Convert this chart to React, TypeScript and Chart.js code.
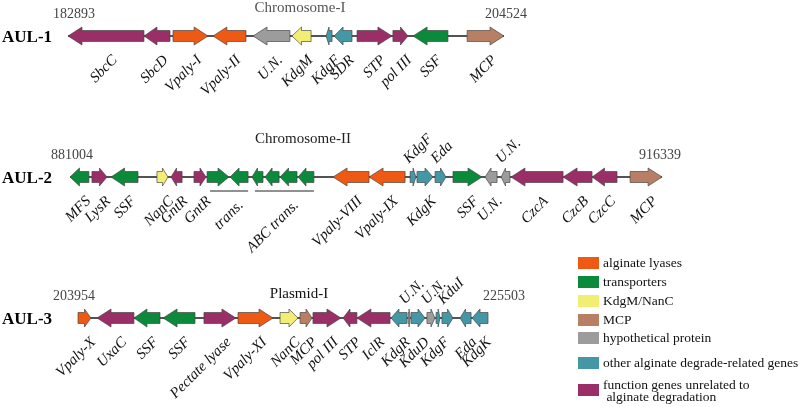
import React, { useEffect, useRef } from 'react';
import { Chart, registerables } from 'chart.js';

Chart.register(...registerables);

// ---------------- data ----------------
const ROWS = ['AUL-1', 'AUL-2', 'AUL-3'];
const ROW_TITLES = ['Chromosome-I', 'Chromosome-II', 'Plasmid-I'];
const ROW_START_BP = [182893, 881004, 203954];
const ROW_END_BP = [204524, 916339, 225503];

// gene positions in kb from the locus start
const AUL1_NAMES = ['SbcC', 'SbcD', 'Vpaly-I', 'Vpaly-II', 'U.N.', 'KdgM', 'KdgF', 'SDR', 'STP', 'pol III', 'SSF', 'MCP'];
const AUL1_START = [0.0, 3.77, 5.21, 7.19, 9.18, 11.11, 12.8, 13.2, 14.34, 16.12, 17.12, 19.8];
const AUL1_END = [3.77, 5.06, 6.95, 8.83, 11.01, 12.06, 13.1, 14.09, 16.07, 16.87, 18.85, 21.63];
const AUL1_STRAND = [-1, -1, 1, -1, -1, -1, -1, -1, 1, 1, -1, 1];
const AUL1_TYPE = ['other', 'other', 'lyase', 'lyase', 'hyp', 'kdgm', 'deg', 'deg', 'other', 'other', 'trans', 'mcp'];
const AUL1_SIDE = ['b', 'b', 'b', 'b', 'b', 'b', 'b', 'b', 'b', 'b', 'b', 'b'];

const AUL2_NAMES = ['MFS', 'LysR', 'SSF', 'NanC', 'GntR', 'GntR', '', '', '', '', '', '', 'Vpaly-VIII', 'Vpaly-IX', 'KdgF', 'KdgK', 'Eda', 'SSF', 'U.N.', 'U.N.', 'CzcA', 'CzcB', 'CzcC', 'MCP'];
const AUL2_START = [0.0, 1.31, 2.45, 5.19, 6.03, 7.4, 8.18, 9.55, 10.86, 11.64, 12.54, 13.61, 15.7, 17.85, 20.3, 20.71, 21.79, 22.86, 24.77, 25.73, 26.32, 29.43, 31.16, 33.43];
const AUL2_END = [1.13, 2.21, 4.06, 5.85, 6.69, 8.12, 9.49, 10.63, 11.52, 12.48, 13.55, 14.56, 17.85, 20.0, 20.65, 21.67, 22.44, 24.59, 25.49, 26.26, 29.43, 31.16, 32.65, 35.34];
const AUL2_STRAND = [-1, 1, -1, 1, -1, 1, 1, -1, -1, -1, -1, -1, -1, -1, 1, 1, 1, 1, -1, -1, -1, -1, -1, 1];
const AUL2_TYPE = ['trans', 'other', 'trans', 'kdgm', 'other', 'other', 'trans', 'trans', 'trans', 'trans', 'trans', 'trans', 'lyase', 'lyase', 'deg', 'deg', 'deg', 'trans', 'hyp', 'hyp', 'other', 'other', 'other', 'mcp'];
const AUL2_SIDE = ['b', 'b', 'b', 'b', 'b', 'b', '', '', '', '', '', '', 'b', 'b', 'a', 'b', 'a', 'b', 'b', 'a', 'b', 'b', 'b', 'b'];
const AUL2_GROUP_LABELS = ['trans.', 'ABC trans.'];
const AUL2_GROUP_FIRST = [6, 8];
const AUL2_GROUP_LAST = [7, 11];

const AUL3_NAMES = ['Vpaly-X', 'UxaC', 'SSF', 'SSF', 'Pectate lyase', 'Vpaly-XI', 'NanC', 'MCP', 'pol III', 'STP', 'IclR', 'KdgR', 'U.N.', 'KduD', 'U.N.', 'KdgF', 'KduI', 'Eda', 'KdgK'];
const AUL3_START = [0.0, 1.0, 2.94, 4.47, 6.62, 8.41, 10.62, 11.67, 12.35, 13.93, 14.66, 16.45, 17.35, 17.5, 18.34, 18.82, 19.13, 20.08, 20.71];
const AUL3_END = [0.68, 2.94, 4.31, 6.15, 8.3, 10.25, 11.56, 12.3, 13.82, 14.66, 16.4, 17.29, 17.45, 18.24, 18.76, 19.03, 19.71, 20.66, 21.55];
const AUL3_STRAND = [1, -1, -1, -1, 1, 1, 1, 1, 1, -1, -1, -1, 1, 1, 1, 1, 1, -1, -1];
const AUL3_TYPE = ['lyase', 'other', 'trans', 'trans', 'other', 'lyase', 'kdgm', 'mcp', 'other', 'other', 'other', 'deg', 'hyp', 'deg', 'hyp', 'deg', 'deg', 'deg', 'deg'];
const AUL3_SIDE = ['b', 'b', 'b', 'b', 'b', 'b', 'b', 'b', 'b', 'b', 'b', 'b', 'a', 'b', 'a', 'b', 'a', 'b', 'b'];

const LEGEND_TYPES = ['lyase', 'trans', 'kdgm', 'mcp', 'hyp', 'deg', 'other'];
const LEGEND_LABELS = [
  ['alginate lyases'],
  ['transporters'],
  ['KdgM/NanC'],
  ['MCP'],
  ['hypothetical protein'],
  ['other alginate degrade-related genes'],
  ['function genes unrelated to', ' alginate degradation'],
];

// ---------------- styles / layout ----------------
const TYPE_COLORS: Record<string, string> = {
  lyase: '#EE5A14',
  trans: '#0B8A3B',
  kdgm: '#F2EE74',
  mcp: '#B97F64',
  hyp: '#9C9C9C',
  deg: '#4497A4',
  other: '#9A2E66',
};
const SERIF = "'Liberation Serif', 'Times New Roman', serif";
const W = 800;
const H = 407;
const ROW_LEFT_PX = [68, 70, 78];
const ROW_RIGHT_PX = [504, 662, 488];
const TITLE_X = [300, 303, 299];
const TITLE_DY = [-28, -38, -24];
const TITLE_COLORS = ['#555', '#222', '#111'];
const START_LABEL_X = [74, 72, 74];
const END_LABEL_X = [506, 660, 504];
const LEGEND_X = 578;
const LEGEND_Y = [263, 282, 301, 320, 338, 363, 390];

const ROW_DATA = [
  { names: AUL1_NAMES, start: AUL1_START, end: AUL1_END, strand: AUL1_STRAND, type: AUL1_TYPE, side: AUL1_SIDE },
  { names: AUL2_NAMES, start: AUL2_START, end: AUL2_END, strand: AUL2_STRAND, type: AUL2_TYPE, side: AUL2_SIDE },
  { names: AUL3_NAMES, start: AUL3_START, end: AUL3_END, strand: AUL3_STRAND, type: AUL3_TYPE, side: AUL3_SIDE },
];

function arrow(ctx: CanvasRenderingContext2D, a: number, b: number, y: number, dir: number) {
  const x0 = Math.min(a, b);
  const x1 = Math.max(a, b);
  const w = x1 - x0;
  const bh = 5.5;
  const hh = 9;
  const head = Math.min(14, w * 0.5);
  ctx.beginPath();
  if (dir > 0) {
    ctx.moveTo(x0, y - bh);
    ctx.lineTo(x1 - head, y - bh);
    ctx.lineTo(x1 - head, y - hh);
    ctx.lineTo(x1, y);
    ctx.lineTo(x1 - head, y + hh);
    ctx.lineTo(x1 - head, y + bh);
    ctx.lineTo(x0, y + bh);
  } else {
    ctx.moveTo(x1, y - bh);
    ctx.lineTo(x0 + head, y - bh);
    ctx.lineTo(x0 + head, y - hh);
    ctx.lineTo(x0, y);
    ctx.lineTo(x0 + head, y + hh);
    ctx.lineTo(x0 + head, y + bh);
    ctx.lineTo(x1, y + bh);
  }
  ctx.closePath();
}

const genePlugin = {
  id: 'geneMap',
  afterDatasetsDraw(chart: any) {
    const ctx: CanvasRenderingContext2D = chart.ctx;
    const yScale = chart.scales.y;
    ctx.save();
    ROWS.forEach((row, r) => {
      const xs = chart.scales['x' + r];
      const rd = ROW_DATA[r];
      const y = yScale.getPixelForValue(r);
      const span = (ROW_END_BP[r] - ROW_START_BP[r]) / 1000;
      // backbone
      ctx.strokeStyle = '#1a1a1a';
      ctx.lineWidth = 1.4;
      ctx.beginPath();
      ctx.moveTo(xs.getPixelForValue(0), y);
      ctx.lineTo(xs.getPixelForValue(span), y);
      ctx.stroke();
      // genes
      const meta = chart.getDatasetMeta(r);
      meta.data.forEach((el: any, i: number) => {
        const p = el.getProps(['x', 'base', 'y'], true);
        arrow(ctx, p.base, p.x, p.y, rd.strand[i]);
        ctx.fillStyle = TYPE_COLORS[rd.type[i]];
        ctx.fill();
        ctx.strokeStyle = 'rgba(70,70,70,0.85)';
        ctx.lineWidth = 0.8;
        ctx.stroke();
      });
      // gene labels
      ctx.fillStyle = '#111';
      ctx.font = `italic 15px ${SERIF}`;
      ctx.textBaseline = 'middle';
      meta.data.forEach((el: any, i: number) => {
        const name = rd.names[i];
        const side = rd.side[i];
        if (!name || !side) return;
        const p = el.getProps(['x', 'base', 'y'], true);
        const cx = (p.x + p.base) / 2;
        ctx.save();
        if (side === 'b') {
          ctx.translate(cx + 9, p.y + 22);
          ctx.rotate(-Math.PI / 4);
          ctx.textAlign = 'right';
        } else {
          ctx.translate(cx - 7, p.y - 16);
          ctx.rotate(-Math.PI / 4);
          ctx.textAlign = 'left';
        }
        ctx.fillText(name, 0, 0);
        ctx.restore();
      });
      // row name
      ctx.fillStyle = '#000';
      ctx.font = `bold 17px ${SERIF}`;
      ctx.textAlign = 'left';
      ctx.fillText(row, 2, y + 2);
      // title & coordinates
      ctx.fillStyle = TITLE_COLORS[r];
      ctx.font = `15px ${SERIF}`;
      ctx.textAlign = 'center';
      ctx.fillText(ROW_TITLES[r], TITLE_X[r], y + TITLE_DY[r]);
      ctx.fillStyle = '#444';
      ctx.font = `14px ${SERIF}`;
      ctx.fillText(String(ROW_START_BP[r]), START_LABEL_X[r], y - 22);
      ctx.fillText(String(ROW_END_BP[r]), END_LABEL_X[r], y - 22);
    });

    // gene group underlines (AUL-2)
    {
      const meta = chart.getDatasetMeta(1);
      const y = yScale.getPixelForValue(1);
      AUL2_GROUP_LABELS.forEach((lab, g) => {
        const a = meta.data[AUL2_GROUP_FIRST[g]].getProps(['x', 'base'], true);
        const b = meta.data[AUL2_GROUP_LAST[g]].getProps(['x', 'base'], true);
        const x0 = Math.min(a.x, a.base) + 3;
        const x1 = Math.max(b.x, b.base);
        ctx.strokeStyle = '#222';
        ctx.lineWidth = 1;
        ctx.beginPath();
        ctx.moveTo(x0, y + 14);
        ctx.lineTo(x1, y + 14);
        ctx.stroke();
        ctx.save();
        ctx.fillStyle = '#111';
        ctx.font = `italic 15px ${SERIF}`;
        ctx.textBaseline = 'middle';
        ctx.textAlign = 'right';
        ctx.translate((x0 + x1) / 2 + 12, y + 26);
        ctx.rotate(-Math.PI / 4);
        ctx.fillText(lab, 0, 0);
        ctx.restore();
      });
    }

    // legend
    LEGEND_TYPES.forEach((t, i) => {
      const yc = LEGEND_Y[i];
      ctx.fillStyle = TYPE_COLORS[t];
      ctx.fillRect(LEGEND_X, yc - 6, 21, 12);
      ctx.fillStyle = '#111';
      ctx.font = `13.5px ${SERIF}`;
      ctx.textAlign = 'left';
      ctx.textBaseline = 'middle';
      const lines = LEGEND_LABELS[i];
      if (lines.length === 1) {
        ctx.fillText(lines[0], LEGEND_X + 25, yc);
      } else {
        ctx.fillText(lines[0], LEGEND_X + 25, yc - 5);
        ctx.fillText(lines[1], LEGEND_X + 25, yc + 7);
      }
    });
    ctx.restore();
  },
};

export default function App() {
  const ref = useRef<HTMLCanvasElement>(null);
  useEffect(() => {
    if (!ref.current) return;
    const scales: any = {
      y: { type: 'category', labels: ROWS, offset: false, display: false },
    };
    ROWS.forEach((_, r) => {
      const span = (ROW_END_BP[r] - ROW_START_BP[r]) / 1000;
      const kbPerPx = span / (ROW_RIGHT_PX[r] - ROW_LEFT_PX[r]);
      const min = -ROW_LEFT_PX[r] * kbPerPx;
      scales['x' + r] = { type: 'linear', axis: 'x', position: 'bottom', display: false, min, max: min + W * kbPerPx };
    });
    const chart = new Chart(ref.current, {
      type: 'bar',
      data: {
        labels: ROWS,
        datasets: ROWS.map((row, r) => ({
          label: row,
          xAxisID: 'x' + r,
          yAxisID: 'y',
          grouped: false,
          barThickness: 16,
          backgroundColor: 'rgba(0,0,0,0)',
          borderWidth: 0,
          data: ROW_DATA[r].names.map((_, i) => ({ x: [ROW_DATA[r].start[i], ROW_DATA[r].end[i]], y: row })),
        })) as any,
      },
      options: {
        indexAxis: 'y',
        responsive: false,
        animation: false,
        devicePixelRatio: 1,
        events: [],
        layout: { padding: { top: 36, bottom: H - 318, left: 0, right: 0 } },
        plugins: { legend: { display: false }, tooltip: { enabled: false }, title: { display: false } },
        scales,
      },
      plugins: [genePlugin],
    });
    return () => chart.destroy();
  }, []);
  return (
    <div style={{ position: 'absolute', left: 0, top: 0, width: W, height: H, background: '#fff' }}>
      <canvas ref={ref} width={W} height={H} style={{ display: 'block' }} />
    </div>
  );
}
